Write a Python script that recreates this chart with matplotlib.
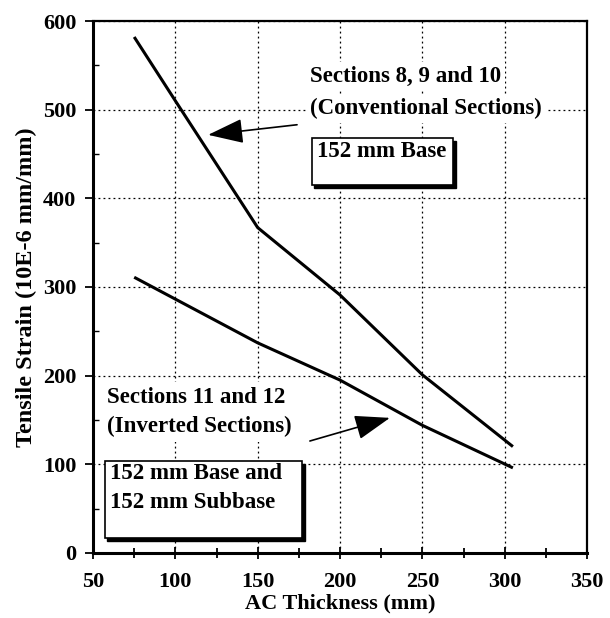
import numpy as np
import matplotlib.pyplot as plt
import matplotlib.patches as patches

# values
thick_conv = [75, 100, 150, 200, 250, 305]
strain_conv = [582, 510, 367, 291, 201, 120]

thick_inv = [75, 150, 200, 250, 305]
strain_inv = [311, 237, 195, 144, 96]

xticks = [50, 100, 150, 200, 250, 300, 350]
yticks = [0, 100, 200, 300, 400, 500, 600]

plt.rcParams['font.family'] = ['Liberation Serif', 'DejaVu Serif']
plt.rcParams['font.weight'] = 'bold'

fig = plt.figure(figsize=(6.10, 6.18), dpi=100)
ax = fig.add_axes([0.1525, 0.1052, 0.8098, 0.8608])

ax.plot(thick_conv, strain_conv, color='black', lw=2.2, solid_capstyle='butt', zorder=3)
ax.plot(thick_inv, strain_inv, color='black', lw=2.2, solid_capstyle='butt', zorder=3)

ax.set_xlim(50, 350)
ax.set_ylim(0, 600)
ax.set_xticks(xticks)
ax.set_yticks(yticks)
ax.set_xticks(np.arange(75, 350, 50), minor=True)
ax.set_yticks(np.arange(50, 600, 100), minor=True)
ax.tick_params(axis='x', which='major', direction='inout', length=9, width=1.3, labelsize=16, pad=9)
ax.tick_params(axis='x', which='minor', direction='inout', length=7, width=1.3)
ax.tick_params(axis='y', which='major', direction='out', length=6, width=1.3, labelsize=16, pad=6)
ax.tick_params(axis='y', which='minor', direction='in', length=4, width=1.0)
for lab in ax.get_xticklabels() + ax.get_yticklabels():
    lab.set_fontweight('bold')

ax.grid(True, which='major', color='black', linestyle=(0, (1.5, 2.5)), linewidth=0.9)
ax.set_axisbelow(True)

for side in ['left', 'bottom']:
    ax.spines[side].set_linewidth(2.2)
for side in ['top', 'right']:
    ax.spines[side].set_linewidth(1.6)

ax.set_xlabel('AC Thickness (mm)', fontsize=16, fontweight='bold', labelpad=1)
ax.set_ylabel('Tensile Strain (10E-6 mm/mm)', fontsize=17.5, fontweight='bold', labelpad=4)

white = dict(facecolor='white', edgecolor='none', pad=3)
fs = 16.5

ax.text(0.439, 0.895, 'Sections 8, 9 and 10', transform=ax.transAxes, fontsize=fs,
        fontweight='bold', va='center', ha='left', bbox=white, zorder=4)
ax.text(0.439, 0.836, '(Conventional Sections)', transform=ax.transAxes, fontsize=fs,
        fontweight='bold', va='center', ha='left', bbox=white, zorder=4)

ax.text(0.0283, 0.293, 'Sections 11 and 12', transform=ax.transAxes, fontsize=fs,
        fontweight='bold', va='center', ha='left', bbox=white, zorder=4)
ax.text(0.0283, 0.237, '(Inverted Sections)', transform=ax.transAxes, fontsize=fs,
        fontweight='bold', va='center', ha='left', bbox=white, zorder=4)


def shadow_box(x0, y0, w, h):
    dx, dy = 0.005, 0.005
    ax.add_patch(patches.Rectangle((x0 + dx, y0 - dy), w, h, transform=ax.transAxes,
                                   facecolor='black', edgecolor='black', zorder=4))
    ax.add_patch(patches.Rectangle((x0, y0), w, h, transform=ax.transAxes,
                                   facecolor='white', edgecolor='black', lw=1.2, zorder=5))


shadow_box(0.443, 0.692, 0.286, 0.088)
ax.text(0.453, 0.754, '152 mm Base', transform=ax.transAxes, fontsize=fs,
        fontweight='bold', va='center', ha='left', zorder=6)

shadow_box(0.0243, 0.0282, 0.399, 0.145)
ax.text(0.0344, 0.150, '152 mm Base and', transform=ax.transAxes, fontsize=fs,
        fontweight='bold', va='center', ha='left', zorder=6)
ax.text(0.0344, 0.094, '152 mm Subbase', transform=ax.transAxes, fontsize=fs,
        fontweight='bold', va='center', ha='left', zorder=6)

arrow = dict(arrowstyle='-|>,head_length=1.0,head_width=0.35', mutation_scale=22,
             color='black', lw=1.2, shrinkA=0, shrinkB=0)
ax.annotate('', xy=(0.233, 0.786), xytext=(0.413, 0.805), xycoords='axes fraction',
            textcoords='axes fraction', arrowprops=arrow, zorder=6)
ax.annotate('', xy=(0.601, 0.254), xytext=(0.439, 0.2105), xycoords='axes fraction',
            textcoords='axes fraction', arrowprops=arrow, zorder=6)

fig.savefig('out.png', dpi=100)
